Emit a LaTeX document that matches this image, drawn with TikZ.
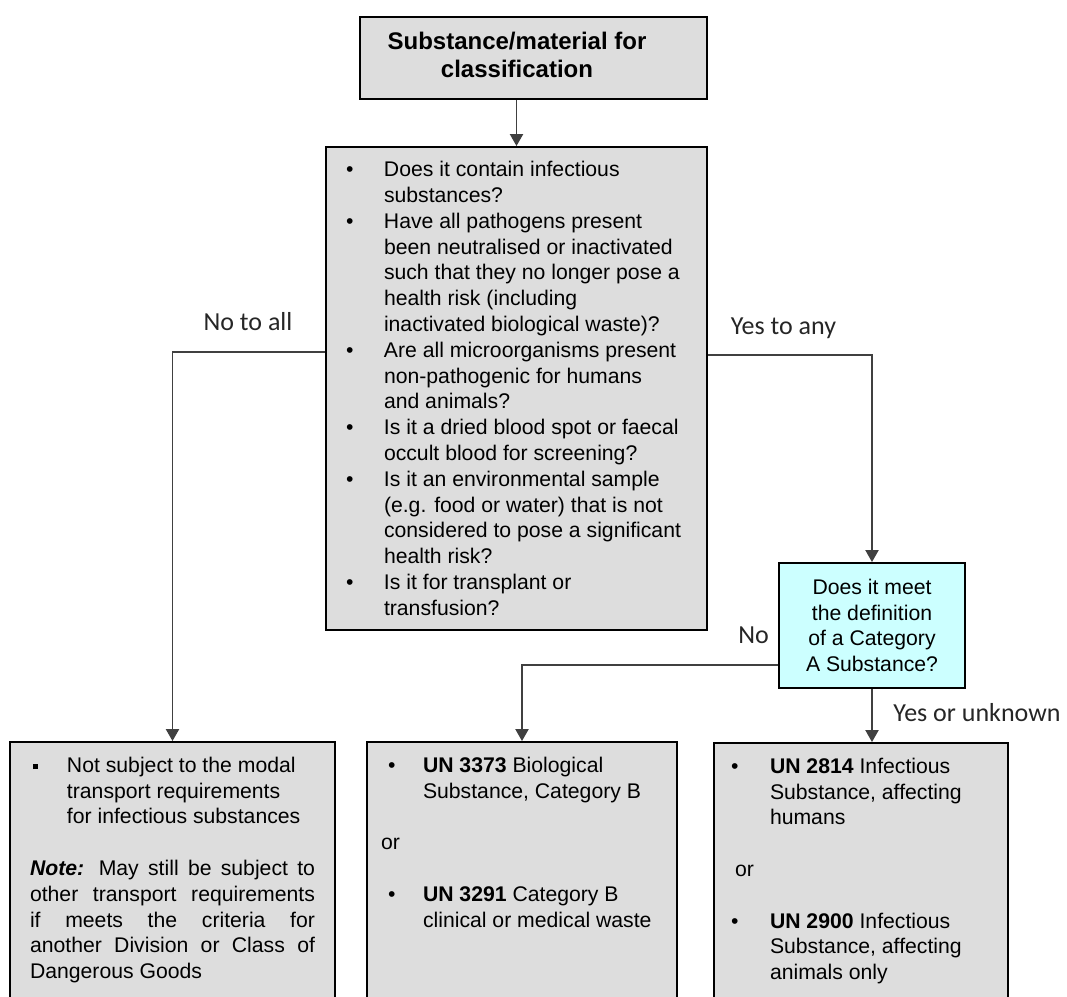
\documentclass[tikz,border=0pt]{standalone}
\usepackage{fontspec}
\setmainfont{Liberation Sans}
\newfontfamily\lblfont{Carlito}
\usepackage{tikz}
\usetikzlibrary{arrows.meta,positioning,calc}
\definecolor{boxgray}{HTML}{DDDDDD}
\definecolor{catcyan}{HTML}{CCFFFF}
\definecolor{linegray}{HTML}{404040}
\newlength{\itemind}
\newlength{\markshift}
\newcommand{\bitem}[2][\textbullet]{\par\noindent\hangindent=\itemind\hangafter=1\makebox[\itemind][l]{\hspace{\markshift}#1}#2\par}
\newcommand{\gapline}{\par\vskip\baselineskip}
\newcommand{\sqmark}{\rule[2.5pt]{4pt}{4pt}}

\begin{document}
\begin{tikzpicture}[x=0.75pt, y=-0.75pt]
\tikzstyle{box}=[rectangle, draw=black, line width=1.5pt, fill=boxgray, inner sep=0pt, font=\fontsize{15.9}{19.35}\selectfont]
\tikzstyle{ques}=[box, fill=catcyan, align=center]
\tikzstyle{ans}=[box, anchor=north, text height=11.5pt, text depth=260pt, inner ysep=11.25pt]
\tikzstyle{lbl}=[font=\lblfont\fontsize{19.5}{22}\selectfont, text=black!85, inner sep=0pt, text height=0.644em, text depth=0pt]
\tikzstyle{connect}=[draw=linegray, line width=0.9pt, -{Triangle[width=10pt,length=9pt]}]

  \useasboundingbox (0,0) rectangle (1067,996);
  \fill[white] (0,0) rectangle (1067,996);
  \clip (0,0) rectangle (1067,996);

  \node[box, font=\bfseries\fontsize{18}{21}\selectfont, minimum width=260.25pt, minimum height=61.5pt] (src) at (533.5,58)
    {\begin{tabular}{@{}c@{}}Substance/material for\\classification\end{tabular}\kern24.75pt};

  \node[box, minimum width=285.75pt, minimum height=362.25pt, inner xsep=15pt] (q) at (516.5,388.5)
    {\parbox[t]{255.75pt}{\setlength{\itemind}{28.5pt}\setlength{\markshift}{0pt}%
     \bitem{Does it contain infectious\\substances?}
     \bitem{Have all pathogens present\\been neutralised or inactivated\\such that they no longer pose a\\health risk (including\\inactivated biological waste)?}
     \bitem{Are all microorganisms present\\non-pathogenic for humans\\and animals?}
     \bitem{Is it a dried blood spot or faecal\\occult blood for screening?}
     \bitem{Is it an environmental sample\\(e.g. food or water) that is not\\considered to pose a significant\\health risk?}
     \bitem{Is it for transplant or\\transfusion?}}};

  \node[ques, minimum width=139.5pt, minimum height=93.75pt] (catA) at (872,625.5)
    {Does it meet\\the definition\\of a Category\\A Substance?};

  \node[ans, inner xsep=15pt] (notsub) at (172.5,741)
    {\parbox[t]{213.75pt}{\setlength{\itemind}{27.75pt}\setlength{\markshift}{2pt}%
     \bitem[\sqmark]{Not subject to the modal\\transport requirements\\for infectious substances}
     \gapline
     \noindent\textbf{\textit{Note:}} May still be subject to\linebreak other transport requirements\linebreak if meets the criteria for\linebreak another Division or Class of\linebreak Dangerous Goods\par}};

  \node[ans, inner xsep=10.5pt] (catB) at (522,741)
    {\parbox[t]{211.5pt}{\setlength{\itemind}{31.5pt}\setlength{\markshift}{5.25pt}%
     \bitem{\textbf{UN 3373} Biological\\Substance, Category B}
     \gapline
     \noindent or
     \gapline
     \bitem{\textbf{UN 3291} Category B\\clinical or medical waste}}};

  \node[ans, inner xsep=12.75pt] (infA) at (861,742)
    {\parbox[t]{195pt}{\setlength{\itemind}{29.25pt}\setlength{\markshift}{0pt}%
     \bitem{\textbf{UN 2814} Infectious\\Substance, affecting\\humans}
     \gapline
     \noindent\hspace{3pt}or
     \gapline
     \bitem{\textbf{UN 2900} Infectious\\Substance, affecting\\animals only}}};

  % branch labels
  \node[lbl] (noall) at (248,326) {No to all};
  \node[lbl] (yesany) at (783.5,330) {Yes to any};
  \node[lbl] (no) at (753.5,639.5) {No};
  \node[lbl] (yesunk) at (977,717.5) {Yes or unknown};

  \path (src.south -| q.north) edge [connect] (q.north);
  \draw[connect] (q.west |- 0,352) -| (notsub.north);
  \draw[connect] (q.east |- 0,355) -| (catA.north);
  \draw[connect] (catA.west |- 0,665) -| (catB.north);
  \path (catA.south) edge [connect] (catA.south |- infA.north);

\end{tikzpicture}
\end{document}
